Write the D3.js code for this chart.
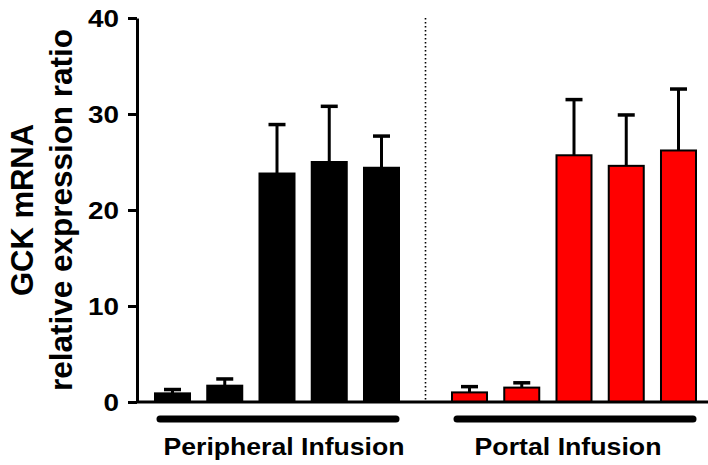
<!DOCTYPE html>
<html>
<head>
<meta charset="utf-8">
<script src="https://cdn.jsdelivr.net/npm/d3@7"></script>
<style>
  body { margin: 0; background: #fff; }
  svg { display: block; font-family: "Liberation Sans", Arial, sans-serif; font-weight: bold; }
</style>
</head>
<body>
<svg id="chart" width="708" height="465"></svg>
<script>
// data (mean and upper SEM)
var groups = ['Peripheral Infusion', 'Portal Infusion'];
var groupColors = ['#000000', '#ff0000'];
var peripheralMean = [0.9, 1.7, 23.8, 25.0, 24.4];
var peripheralErr = [0.4, 0.7, 5.1, 5.8, 3.3];
var portalMean = [1.0, 1.5, 25.7, 24.6, 26.2];
var portalErr = [0.6, 0.5, 5.8, 5.3, 6.4];
var yTicks = [0, 10, 20, 30, 40];
var yTitle = ['GCK mRNA', 'relative expression ratio'];

var svg = d3.select('#chart');

var y = d3.scaleLinear().domain([0, 40]).range([402, 18]);

// left edge of each group, then bars inside a group
var gx = d3.scaleOrdinal().domain(groups).range([155, 452]);
var bx = d3.scaleBand().domain(d3.range(5)).range([0, 244]).paddingInner(0.33);
var bw = bx.bandwidth();

var series = [
  { group: groups[0], color: groupColors[0], mean: peripheralMean, err: peripheralErr },
  { group: groups[1], color: groupColors[1], mean: portalMean, err: portalErr }
];

var bars = [];
series.forEach(function (s) {
  s.mean.forEach(function (m, i) {
    bars.push({ group: s.group, color: s.color, i: i, mean: m, err: s.err[i] });
  });
});

function barX(d) { return gx(d.group) + bx(d.i); }

// y axis
var yAxis = svg.append('g')
  .attr('transform', 'translate(137,0)')
  .call(d3.axisLeft(y).tickValues(yTicks).tickSize(9).tickSizeOuter(0).tickPadding(9));
yAxis.select('.domain').attr('stroke', '#000').attr('stroke-width', 3);
yAxis.selectAll('.tick line').attr('stroke', '#000').attr('stroke-width', 3);
yAxis.selectAll('.tick text')
  .attr('fill', '#000')
  .attr('dy', '0.37em')
  .style('font-size', '23px')
  .style('font-weight', 'bold')
  .style('font-family', '"Liberation Sans", Arial, sans-serif')
  // the figure's digits are drawn wide
  .attr('textLength', function (d) { return String(d).length * 15.5; })
  .attr('lengthAdjust', 'spacingAndGlyphs');

// y title, two lines
var yMid = (y(0) + y(40)) / 2;
svg.append('g').attr('transform', 'translate(33,' + yMid + ') rotate(-90)')
  .append('text')
  .attr('text-anchor', 'middle')
  .style('font-size', '31px')
  .text(yTitle[0]);
svg.append('g').attr('transform', 'translate(72,' + yMid + ') rotate(-90)')
  .append('text')
  .attr('text-anchor', 'middle')
  .style('font-size', '31px')
  .attr('textLength', 362)
  .attr('lengthAdjust', 'spacingAndGlyphs')
  .text(yTitle[1]);

// dotted divider between groups
var lastP = gx(groups[0]) + bx(4) + bw;
var firstQ = gx(groups[1]) + bx(0);
svg.append('line')
  .attr('x1', (lastP + firstQ) / 2).attr('x2', (lastP + firstQ) / 2)
  .attr('y1', y(40)).attr('y2', y(0))
  .attr('stroke', '#000')
  .attr('stroke-width', 1.6)
  .attr('stroke-dasharray', '1.6,2.4');

// error bars (upper only)
var eb = svg.append('g').selectAll('g').data(bars).enter().append('g');
eb.append('line')
  .attr('x1', function (d) { return barX(d) + bw / 2; })
  .attr('x2', function (d) { return barX(d) + bw / 2; })
  .attr('y1', function (d) { return y(d.mean); })
  .attr('y2', function (d) { return y(d.mean + d.err); })
  .attr('stroke', '#000').attr('stroke-width', 3);
eb.append('line')
  .attr('x1', function (d) { return barX(d) + bw / 2 - 8.5; })
  .attr('x2', function (d) { return barX(d) + bw / 2 + 8.5; })
  .attr('y1', function (d) { return y(d.mean + d.err); })
  .attr('y2', function (d) { return y(d.mean + d.err); })
  .attr('stroke', '#000').attr('stroke-width', 3.5);

// bars
svg.append('g').selectAll('rect').data(bars).enter().append('rect')
  .attr('x', barX)
  .attr('y', function (d) { return y(d.mean); })
  .attr('width', bw)
  .attr('height', function (d) { return y(0) - y(d.mean); })
  .attr('fill', function (d) { return d.color; })
  .attr('stroke', '#000')
  .attr('stroke-width', 2);

// x axis baseline
svg.append('line')
  .attr('x1', 136).attr('x2', 708)
  .attr('y1', y(0)).attr('y2', y(0))
  .attr('stroke', '#000').attr('stroke-width', 3);

// group brackets and labels
var labelShift = [6, -7];
var labelLen = [241, 187];
groups.forEach(function (g, k) {
  var x0 = gx(g) + bx(0) + 5;
  var x1 = gx(g) + bx(4) + bw - 3;
  svg.append('line')
    .attr('x1', x0).attr('x2', x1)
    .attr('y1', 419).attr('y2', 419)
    .attr('stroke', '#000').attr('stroke-width', 7)
    .attr('stroke-linecap', 'round');
  svg.append('text')
    .attr('x', (x0 + x1) / 2 + labelShift[k])
    .attr('y', 455)
    .attr('text-anchor', 'middle')
    .style('font-size', '23px')
    .attr('textLength', labelLen[k])
    .attr('lengthAdjust', 'spacingAndGlyphs')
    .text(g);
});
</script>
</body>
</html>
